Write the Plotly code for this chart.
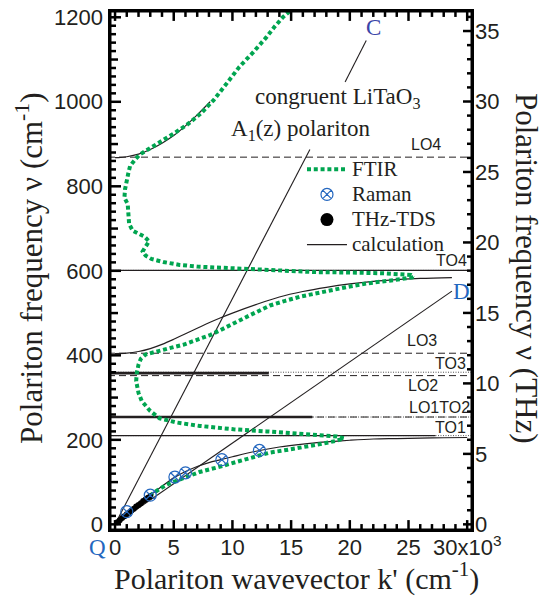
import plotly.graph_objects as go

# ---------------- data (k' in 10^3 cm^-1, frequency in cm^-1) ----------------
ftir_k = [15.3, 14.3, 13.6, 12.9, 11.8, 10.6, 9.5, 8.4, 7.3, 6.1, 5.0, 3.9, 2.9, 2.6, 2.1, 1.7,
          1.28, 1.14, 1.0, 0.85, 0.8, 1.08, 1.14, 1.2, 1.5, 2.0, 2.5, 2.9, 2.6, 2.35, 2.6, 3.1,
          4.1, 5.5, 7, 9, 11, 14, 17, 20, 23, 25.2, 25.4, 24.3, 22.8, 21.4, 20, 18.6, 17.2, 15.8,
          14.5, 13.2, 11.5, 10.1, 9.0, 8.1, 7.0, 5.8, 4.5, 3.5, 2.6, 2.2, 2.0, 1.85, 1.8, 1.9,
          2.0, 2.27, 2.6, 3.0, 3.8, 5.25, 7.2, 10.1, 12.9, 15.8, 17.5, 18.9, 19.5, 18.9, 17.5,
          16, 14.6, 13.2, 11.6, 10.1, 8.6, 7.2, 6.2, 5.25, 4.5, 3.8, 3.3, 2.8]
ftir_nu = [1225, 1200, 1178, 1153, 1118, 1083, 1043, 1004, 972, 945, 925, 905, 889, 883, 875, 863,
           848, 832, 812, 793, 773, 758, 734, 711, 695, 689, 681, 670, 656, 646, 636, 628,
           621, 614, 610, 607, 604, 600, 597, 596, 594, 590, 585, 580, 575, 570, 563, 555, 547, 539,
           529, 518, 495, 474, 460, 448, 436, 425, 416, 409, 402, 392, 378, 358, 339, 325,
           311, 292, 280, 268, 251, 241, 233, 225, 220, 215, 212, 208, 204, 198, 190,
           182, 176, 170, 157, 145, 134, 124, 114, 104, 95, 84, 74, 65]

raman_k = [1.0, 3.0, 5.1, 6.0, 9.1, 12.3]
raman_nu = [30, 69, 112, 122, 153, 175]

thz_k = [0.2, 0.4, 0.6, 0.8, 1.0, 1.2, 1.4, 1.6, 1.8, 2.0, 2.2, 2.4, 2.6, 2.8, 3.0]
thz_nu = [5, 10, 15, 19, 24, 28, 33, 37, 42, 46, 50, 55, 59, 63, 66]

calc_upper_k = [0, 0.3, 1, 2, 3, 4, 5, 6, 7, 8.1]
calc_upper_nu = [868, 868, 870, 876, 887, 902, 920, 943, 969, 1000]
calc_mid_k = [0, 1, 2, 3, 4, 5, 6, 7, 8, 9, 10, 12, 14, 16, 18, 20, 22, 24, 26, 28.7]
calc_mid_nu = [404, 405, 409, 416, 426, 438, 451, 464, 477, 489, 500, 520, 538, 551, 561, 569, 575, 579, 582, 584]
calc_low_k = [0, 1, 2, 3, 4, 5, 6, 7, 8, 9, 10, 12, 14, 16, 18, 20, 22, 24, 26, 28, 30]
calc_low_nu = [0, 24, 47, 69, 90, 110, 125, 137, 146, 153, 160, 173, 183, 190, 195, 199, 202, 203, 204, 205, 205.5]

# nearly flat calculated branches / TO solid lines: (frequency, k end, width)
flat_nu = [601, 358, 254, 210]
flat_kend = [30.0, 13.1, 16.8, 27.3]
flat_w = [1.2, 2.6, 2.6, 1.1]

lo_nu = [254, 352, 405, 869]     # LO1, LO2, LO3, LO4 (dashed)
to_nu = [210, 254, 360, 601]     # TO1, TO2, TO3, TO4 (dotted)

lightC_k = [0, 16.6, None, 19.6, 21.4]
lightC_nu = [0, 887, None, 1047, 1145]
lightD_k = [0, 28.7]
lightD_nu = [0, 552]

# tick positions
x_major = [0, 5, 10, 15, 20, 25, 30]
x_minor = list(range(0, 31))
y_major = list(range(0, 1201, 200))
y_mid = list(range(100, 1201, 200))
y_minor = list(range(0, 1201, 20))
thz_major = list(range(0, 36, 5))
thz_minor = list(range(0, 37))

xmin, xmax = -0.6, 30.58
ymin, ymax = -18.1, 1219.6
THZ = 33.356

INK = "#231f20"
GREEN = "#00a550"
BLUE = "#2467bf"

fig = go.Figure()

for v in lo_nu:
    fig.add_trace(go.Scatter(x=[xmin, xmax], y=[v, v], mode="lines", showlegend=False,
                             line=dict(color=INK, width=1, dash="7px,4px"), hoverinfo="skip"))
for v in to_nu:
    fig.add_trace(go.Scatter(x=[xmin, xmax], y=[v, v], mode="lines", showlegend=False,
                             line=dict(color="#555555", width=1, dash="1px,1.5px"), hoverinfo="skip"))
for v, ke, w in zip(flat_nu, flat_kend, flat_w):
    fig.add_trace(go.Scatter(x=[xmin, ke], y=[v, v], mode="lines", showlegend=False,
                             line=dict(color=INK, width=w), hoverinfo="skip"))

fig.add_trace(go.Scatter(x=lightC_k, y=lightC_nu, mode="lines", showlegend=False,
                         line=dict(color=INK, width=1.1), hoverinfo="skip"))
fig.add_trace(go.Scatter(x=lightD_k, y=lightD_nu, mode="lines", showlegend=False,
                         line=dict(color=INK, width=1.1), hoverinfo="skip"))

LS = "<span style='font-size:21px'>%s</span>"
fig.add_trace(go.Scatter(x=calc_upper_k, y=calc_upper_nu, mode="lines", name=LS % "calculation",
                         legendrank=4, line=dict(color=INK, width=1.2, shape="spline")))
fig.add_trace(go.Scatter(x=calc_mid_k, y=calc_mid_nu, mode="lines", showlegend=False,
                         line=dict(color=INK, width=1.2, shape="spline")))
fig.add_trace(go.Scatter(x=calc_low_k, y=calc_low_nu, mode="lines", showlegend=False,
                         line=dict(color=INK, width=1.2, shape="spline")))

fig.add_trace(go.Scatter(x=ftir_k, y=ftir_nu, mode="lines", name=LS % "FTIR", legendrank=1,
                         line=dict(color=GREEN, width=4, dash="4px,2.8px")))
fig.add_trace(go.Scatter(x=thz_k, y=thz_nu, mode="markers", showlegend=False,
                         marker=dict(color="black", size=6)))
fig.add_trace(go.Scatter(x=[None], y=[None], mode="markers", name=LS % "THz-TDS", legendrank=3,
                         marker=dict(color="black", size=13)))
fig.add_trace(go.Scatter(x=raman_k, y=raman_nu, mode="markers", name=LS % "Raman", legendrank=2,
                         marker=dict(symbol="circle-x-open", color=BLUE, size=12, line=dict(width=1.2))))

# ---- frame and tick marks drawn through the data scales ----
PW, PH = 366.0, 527.0                       # plot area size in px
kpp = (xmax - xmin) / PW                    # k units per px
cpp = (ymax - ymin) / PH                    # cm^-1 per px
fig.add_trace(go.Scatter(x=[xmin, xmax, xmax, xmin, xmin], y=[ymin, ymin, ymax, ymax, ymin],
                         mode="lines", showlegend=False, hoverinfo="skip",
                         line=dict(color="black", width=7)))
tx, ty = [], []
for v in x_minor:
    ln = (12 if v in x_major else 8) * cpp
    tx += [v, v, None, v, v, None]
    ty += [ymin, ymin + ln, None, ymax, ymax - ln, None]
for v in y_minor:
    ln = (13 if v in y_major else (10 if v in y_mid else 8)) * kpp
    tx += [xmin, xmin + ln, None]
    ty += [v, v, None]
for v in thz_minor:
    ln = (11 if v in thz_major else 7) * kpp
    tx += [xmax, xmax - ln, None]
    ty += [v * THZ, v * THZ, None]
fig.add_trace(go.Scatter(x=tx, y=ty, mode="lines", showlegend=False, hoverinfo="skip",
                         line=dict(color="black", width=2.5)))

fig.add_trace(go.Scatter(x=[None], y=[None], yaxis="y2", showlegend=False))

tickfont = dict(family="Liberation Sans, Arial, sans-serif", size=22, color=INK)
serif = "Liberation Serif, Times New Roman, serif"
NOGRID = "rgba(0,0,0,0)"

fig.update_layout(
    width=543, height=604,
    margin=dict(l=108, r=69, t=5, b=72),
    plot_bgcolor="white",
    xaxis=dict(range=[xmin, xmax], tickmode="linear", tick0=0, dtick=5,
               labelalias={"30": "30x10<sup>3</sup>"}, ticks="", showline=False,
               gridcolor=NOGRID, zerolinecolor=NOGRID, tickfont=tickfont),
    yaxis=dict(range=[ymin, ymax], tickmode="linear", tick0=0, dtick=200,
               ticks="", showline=False, ticklabelstandoff=4,
               gridcolor=NOGRID, zerolinecolor=NOGRID, tickfont=tickfont),
    yaxis2=dict(range=[ymin / THZ, ymax / THZ], overlaying="y", side="right",
                tickmode="linear", tick0=0, dtick=5, ticks="", showline=False,
                gridcolor=NOGRID, zerolinecolor=NOGRID, tickfont=tickfont),
    legend=dict(x=0.53, y=0.727, xanchor="left", yanchor="top", bgcolor="rgba(0,0,0,0)",
                font=dict(family=serif, size=17, color=INK),
                itemwidth=40, tracegroupgap=0),
    showlegend=True,
)

ann = []
def A(text, x, y, size, color=INK, family=serif, xref="x", yref="y", angle=0, xanchor="center"):
    ann.append(dict(text=text, x=x, y=y, xref=xref, yref=yref, showarrow=False,
                    font=dict(family=family, size=size, color=color), textangle=angle,
                    xanchor=xanchor, yanchor="middle"))

sans = "Liberation Sans, Arial, sans-serif"
A("LO4", 26.5, 898, 16, family=sans)
A("TO4", 28.7, 625, 16, family=sans)
A("LO3", 26.15, 435, 16, family=sans)
A("TO3", 28.6, 381, 16, family=sans)
A("LO2", 26.2, 329.5, 16, family=sans)
A("LO1TO2", 27.6, 275.5, 16, family=sans)
A("TO1", 28.6, 228.5, 16, family=sans)
A("congruent LiTaO<sub>3</sub>", 18.95, 1008, 23)
A("A<sub>1</sub>(z) polariton", 15.76, 933, 23)
A("C", 22.0, 1177, 23, color="#3b45a8")
A("D", 29.5, 552, 23, color=BLUE)
A("Q", -0.03, -0.03, 23, color=BLUE, xref="paper", yref="paper")
A("Polariton wavevector k' (cm<sup>-1</sup>)", 0.516, -0.085, 30, xref="paper", yref="paper")
A("Polariton frequency ν (cm<sup>-1</sup>)", -0.213, 0.503, 31, xref="paper", yref="paper", angle=-90)
A("Polariton frequency ν (THz)", 1.142, 0.503, 31, xref="paper", yref="paper", angle=90)
fig.update_layout(annotations=ann)

fig.write_html("out.html", config={"displayModeBar": False},
               post_script="document.body.style.margin='0px';document.body.style.padding='0px';")
